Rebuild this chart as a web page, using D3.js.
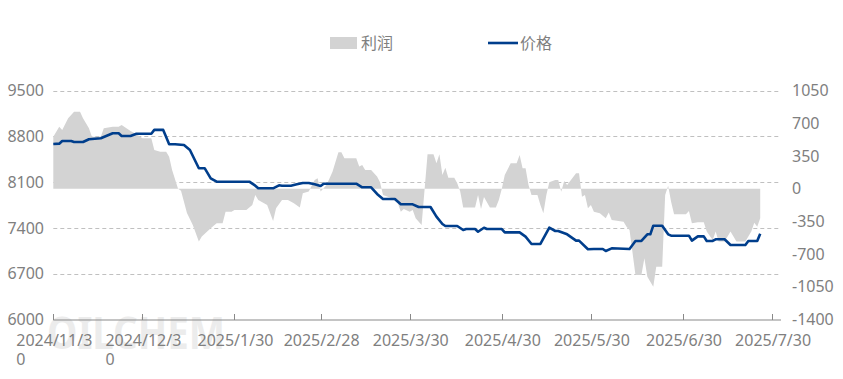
<!DOCTYPE html>
<html>
<head>
<meta charset="utf-8">
<script src="https://cdn.jsdelivr.net/npm/d3@7/dist/d3.min.js"></script>
<style>
  body { margin: 0; background: #fff; }
  svg text { font-family: "Noto Sans", "Noto Sans CJK SC", sans-serif; }
</style>
</head>
<body>
<div id="chart"></div>
<script>
// Data
const priceDates = ["2024-11-30","2024-12-02","2024-12-03","2024-12-06","2024-12-07","2024-12-10","2024-12-12","2024-12-16","2024-12-20","2024-12-22","2024-12-23","2024-12-26","2024-12-28","2025-01-02","2025-01-03","2025-01-06","2025-01-07","2025-01-08","2025-01-10","2025-01-13","2025-01-15","2025-01-18","2025-01-20","2025-01-22","2025-01-24","2025-02-04","2025-02-06","2025-02-07","2025-02-12","2025-02-14","2025-02-15","2025-02-18","2025-02-20","2025-02-22","2025-02-24","2025-02-26","2025-02-28","2025-03-01","2025-03-12","2025-03-14","2025-03-17","2025-03-19","2025-03-21","2025-03-25","2025-03-27","2025-03-31","2025-04-02","2025-04-06","2025-04-08","2025-04-10","2025-04-11","2025-04-15","2025-04-17","2025-04-18","2025-04-21","2025-04-22","2025-04-24","2025-04-25","2025-04-30","2025-05-01","2025-05-06","2025-05-08","2025-05-10","2025-05-13","2025-05-16","2025-05-18","2025-05-19","2025-05-22","2025-05-25","2025-05-26","2025-05-29","2025-05-31","2025-06-03","2025-06-04","2025-06-06","2025-06-12","2025-06-14","2025-06-16","2025-06-18","2025-06-19","2025-06-20","2025-06-23","2025-06-25","2025-06-26","2025-07-02","2025-07-03","2025-07-05","2025-07-07","2025-07-08","2025-07-10","2025-07-11","2025-07-14","2025-07-16","2025-07-21","2025-07-22","2025-07-25","2025-07-26"];
const priceValues = [8685,8690,8730,8730,8715,8715,8757,8772,8848,8848,8807,8807,8842,8842,8900,8900,8790,8680,8680,8669,8593,8313,8313,8160,8108,8108,8047,8007,8007,8053,8047,8047,8068,8088,8088,8068,8042,8077,8077,8022,8022,7920,7843,7843,7762,7762,7721,7721,7573,7461,7430,7430,7369,7384,7384,7343,7404,7384,7384,7333,7333,7267,7155,7155,7404,7354,7354,7303,7206,7206,7074,7079,7079,7048,7089,7079,7201,7201,7303,7303,7435,7435,7303,7282,7282,7206,7272,7272,7201,7201,7227,7227,7140,7140,7201,7201,7313];

const profitDates = ["2024-11-30","2024-12-02","2024-12-03","2024-12-05","2024-12-07","2024-12-09","2024-12-10","2024-12-12","2024-12-13","2024-12-16","2024-12-17","2024-12-20","2024-12-22","2024-12-23","2024-12-26","2024-12-28","2024-12-30","2025-01-02","2025-01-03","2025-01-05","2025-01-07","2025-01-08","2025-01-09","2025-01-11","2025-01-12","2025-01-14","2025-01-16","2025-01-18","2025-01-19","2025-01-22","2025-01-24","2025-01-26","2025-01-27","2025-01-29","2025-01-30","2025-02-03","2025-02-05","2025-02-06","2025-02-07","2025-02-10","2025-02-12","2025-02-13","2025-02-15","2025-02-17","2025-02-19","2025-02-21","2025-02-22","2025-02-24","2025-02-26","2025-02-27","2025-02-28","2025-03-02","2025-03-04","2025-03-06","2025-03-07","2025-03-08","2025-03-12","2025-03-13","2025-03-14","2025-03-15","2025-03-17","2025-03-19","2025-03-20","2025-03-21","2025-03-24","2025-03-26","2025-03-27","2025-03-28","2025-03-30","2025-03-31","2025-04-01","2025-04-03","2025-04-05","2025-04-07","2025-04-08","2025-04-09","2025-04-10","2025-04-11","2025-04-12","2025-04-14","2025-04-15","2025-04-16","2025-04-17","2025-04-21","2025-04-22","2025-04-23","2025-04-24","2025-04-26","2025-04-28","2025-04-29","2025-04-30","2025-05-01","2025-05-03","2025-05-05","2025-05-06","2025-05-07","2025-05-08","2025-05-09","2025-05-10","2025-05-12","2025-05-13","2025-05-14","2025-05-15","2025-05-16","2025-05-18","2025-05-19","2025-05-20","2025-05-21","2025-05-22","2025-05-25","2025-05-26","2025-05-27","2025-05-28","2025-05-29","2025-05-30","2025-05-31","2025-06-02","2025-06-04","2025-06-05","2025-06-06","2025-06-10","2025-06-11","2025-06-12","2025-06-14","2025-06-16","2025-06-17","2025-06-18","2025-06-20","2025-06-21","2025-06-23","2025-06-24","2025-06-25","2025-06-26","2025-06-27","2025-07-01","2025-07-02","2025-07-03","2025-07-05","2025-07-07","2025-07-08","2025-07-10","2025-07-11","2025-07-12","2025-07-14","2025-07-16","2025-07-18","2025-07-21","2025-07-23","2025-07-24","2025-07-25","2025-07-26"];
const profitValues = [558,665,629,755,825,825,755,648,558,558,648,665,665,683,619,583,540,540,415,397,397,344,201,0,-20,-260,-390,-566,-512,-423,-369,-369,-245,-245,-227,-227,-173,-66,-120,-173,-345,-209,-120,-120,-155,-202,-48,-30,94,112,-30,41,183,390,390,326,326,237,255,201,201,130,70,-66,-102,-155,-245,-217,-245,-227,-316,-387,369,369,273,369,148,226,119,119,59,-30,-202,-202,-66,-216,-88,-202,-202,-120,0,148,273,273,362,219,219,41,-66,-66,-173,-262,-66,70,94,94,-31,83,41,166,166,-85,-66,-209,-173,-245,-262,-316,-253,-334,-352,-406,-441,-923,-923,-744,-941,-1048,-834,-834,-66,33,-138,-273,-273,-237,-369,-359,-359,-459,-548,-459,-566,-566,-459,-566,-566,-459,-363,-406,-316];

const xTickDates = ["2024-11-30","2024-12-30","2025-01-30","2025-02-28","2025-03-30","2025-04-30","2025-05-30","2025-06-30","2025-07-30"];
const xDomain = ["2024-11-30", "2025-08-02"];
const leftTicks = [6000, 6700, 7400, 8100, 8800, 9500];
const rightTicks = [-1400, -1050, -700, -350, 0, 350, 700, 1050];
const legendNames = ["利润", "价格"];

// Layout
const W = 843, H = 379;
const plot = { left: 53.3, right: 781, top: 90.7, bottom: 319.5 };
const GREY_TEXT = "#7f7f7f", AREA = "#d3d3d3", LINE = "#003e8c";

const parse = d3.timeParse("%Y-%m-%d");
const fmt = d3.timeFormat("%Y/%-m/%-d");
const price = priceDates.map((d, i) => ({ date: parse(d), v: priceValues[i] }));
const profit = profitDates.map((d, i) => ({ date: parse(d), v: profitValues[i] }));

const x = d3.scaleTime().domain(xDomain.map(parse)).range([plot.left, plot.right]);
const yL = d3.scaleLinear().domain([6000, 9500]).range([plot.bottom, plot.top]);
const yR = d3.scaleLinear().domain([-1400, 1050]).range([plot.bottom, plot.top]);

const svg = d3.select("#chart").append("svg").attr("width", W).attr("height", H);

// Watermark
svg.append("text").attr("x", 47).attr("y", 349)
    .attr("font-size", 44).attr("font-weight", "bold").attr("fill", "#ececec")
    .attr("textLength", 178).attr("lengthAdjust", "spacingAndGlyphs")
    .text("OILCHEM");

// Gridlines (left axis)
svg.append("g").selectAll("line").data(leftTicks.filter(t => t > 6000)).enter().append("line")
    .attr("x1", plot.left).attr("x2", plot.right)
    .attr("y1", d => Math.round(yL(d)) + 0.5).attr("y2", d => Math.round(yL(d)) + 0.5)
    .attr("stroke", "#c0c0c0").attr("stroke-dasharray", "4,3");

// Profit area
const area = d3.area().x(d => x(d.date)).y0(yR(0)).y1(d => yR(d.v));
svg.append("path").datum(profit).attr("d", area).attr("fill", AREA);

// Price line
const line = d3.line().x(d => x(d.date)).y(d => yL(d.v));
svg.append("path").datum(price).attr("d", line)
    .attr("fill", "none").attr("stroke", LINE).attr("stroke-width", 2.6).attr("stroke-linejoin", "round");

// X axis
const xAxis = svg.append("g").attr("transform", `translate(0,${plot.bottom + 0.5})`);
xAxis.append("line").attr("x1", plot.left).attr("x2", plot.right).attr("stroke", "#898989");
xAxis.selectAll(".tick").data(xTickDates.map(parse)).enter().append("line")
    .attr("x1", d => Math.round(x(d)) + 0.5).attr("x2", d => Math.round(x(d)) + 0.5)
    .attr("y1", 0).attr("y2", -6).attr("stroke", "#898989");

xTickDates.map(parse).forEach(d => {
    const label = fmt(d);
    const first = label.length > 9 ? label.slice(0, 9) : label;
    const t = xAxis.append("text").attr("x", x(d) + 1).attr("y", 26)
        .attr("text-anchor", "middle").attr("font-size", 16).attr("fill", GREY_TEXT).text(first);
    if (label.length > 9) {
        const w = t.node().getComputedTextLength();
        xAxis.append("text").attr("x", x(d) + 1 - w / 2).attr("y", 45)
            .attr("font-size", 16).attr("fill", GREY_TEXT).text(label.slice(9));
    }
});

// Left axis labels
svg.append("g").selectAll("text").data(leftTicks).enter().append("text")
    .attr("x", 44).attr("y", d => yL(d)).attr("dy", "0.35em")
    .attr("text-anchor", "end").attr("font-size", 16).attr("fill", GREY_TEXT)
    .text(d => d);

// Right axis labels
svg.append("g").selectAll("text").data(rightTicks).enter().append("text")
    .attr("x", 792).attr("y", d => yR(d)).attr("dy", "0.35em")
    .attr("font-size", 16).attr("fill", GREY_TEXT)
    .text(d => d);

// Legend
const legend = svg.append("g").attr("transform", "translate(0,43)");
legend.append("rect").attr("x", 330).attr("y", -6).attr("width", 27).attr("height", 12).attr("fill", AREA);
legend.append("text").attr("x", 361).attr("y", 0).attr("dy", "0.35em")
    .attr("font-size", 16).attr("fill", GREY_TEXT).text(legendNames[0]);
legend.append("line").attr("x1", 488).attr("x2", 518).attr("y1", 0).attr("y2", 0)
    .attr("stroke", LINE).attr("stroke-width", 2.6);
legend.append("text").attr("x", 520).attr("y", 0).attr("dy", "0.35em")
    .attr("font-size", 16).attr("fill", GREY_TEXT).text(legendNames[1]);
</script>
</body>
</html>
